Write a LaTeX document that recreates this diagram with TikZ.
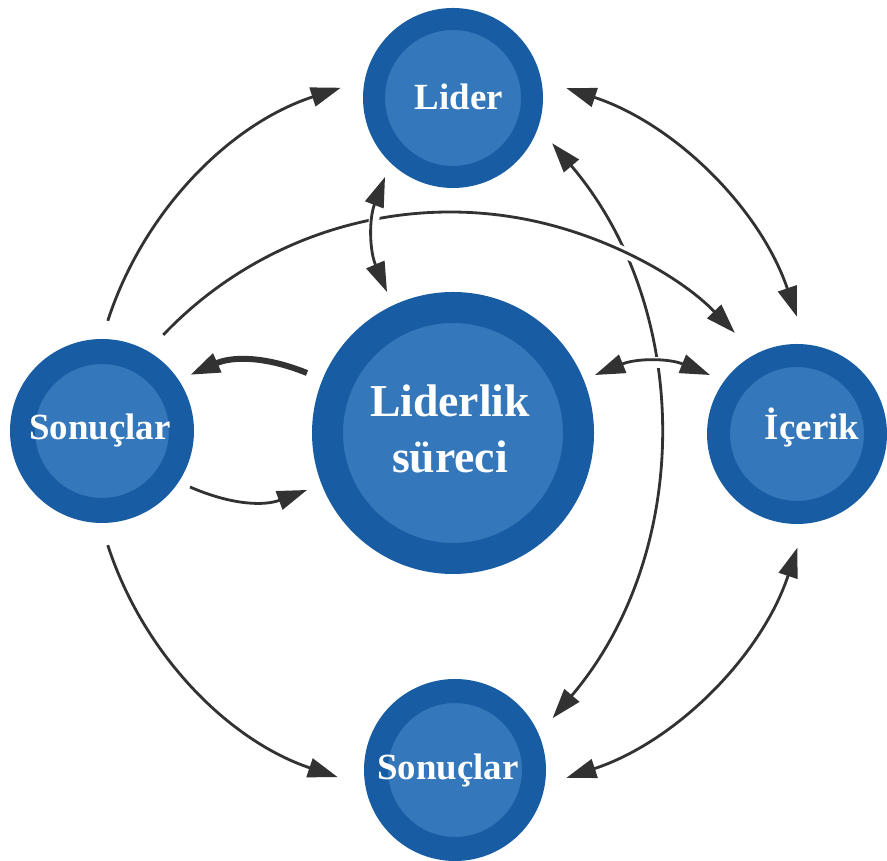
\documentclass[tikz,border=0pt]{standalone}
\usepackage{fontspec}
\setmainfont{Liberation Serif}
\usetikzlibrary{arrows.meta,calc}
\definecolor{ringblue}{RGB}{24,93,163}
\definecolor{coreblue}{RGB}{52,120,187}
\definecolor{arrowgray}{RGB}{50,50,50}
\begin{document}
\begin{tikzpicture}[
  bub/.style={circle, draw=ringblue, fill=coreblue, inner sep=0pt},
  lbl/.style={text=white, inner sep=0pt, anchor=base},
  small/.style={font=\bfseries\fontsize{10.5}{12}\selectfont},
  big/.style={font=\bfseries\fontsize{13}{15}\selectfont},
  link/.style={draw=arrowgray, line width=0.8pt, >={Triangle[length=8.5pt,width=5.5pt]}},
  halo/.style={preaction={draw=white, line width=3pt, arrows=-}},
]
\useasboundingbox (0,0) rectangle (8.87,8.61);

% circles
\node[bub, line width=0.22cm, minimum size=1.58cm] (lider) at (4.53,7.63) {};
\node[bub, line width=0.31cm, minimum size=2.51cm] (core) at (4.53,4.28) {};
\node[bub, line width=0.25cm, minimum size=1.59cm] (sonL) at (1.02,4.30) {};
\node[bub, line width=0.23cm, minimum size=1.57cm] (icerik) at (7.97,4.27) {};
\node[bub, line width=0.24cm, minimum size=1.58cm] (sonB) at (4.55,0.91) {};

% labels
\node[lbl, small] (liderT) at (4.59,7.51) {Lider};
\node[lbl, big] (coreT1) at (4.50,4.44) {Liderlik};
\node[lbl, big] (coreT2) at (4.50,3.88) {süreci};
\node[lbl, small] (sonLT) at (1.00,4.21) {Sonuçlar};
\node[lbl, small] (icerikT) at (8.12,4.21) {İçerik};
\node[lbl, small] (sonBT) at (4.48,0.81) {Sonuçlar};

% outer ring arcs around the core
\coordinate (O) at (core.center);
\coordinate (r1s) at ($(O)+(162:3.63)$);
\coordinate (r2s) at ($(O)+(198:3.63)$);
\coordinate (r3s) at ($(O)+(71.8:3.63)$);
\coordinate (r4s) at ($(O)+(-18.4:3.63)$);
\draw[link,->] (r1s) arc[start angle=162, end angle=108, radius=3.63];
\draw[link,->] (r2s) arc[start angle=198, end angle=251.5, radius=3.63];
\draw[link,<->] (r3s) arc[start angle=71.8, end angle=18.7, radius=3.63];
\draw[link,<->] (r4s) arc[start angle=-18.4, end angle=-71.8, radius=3.63];

% long arc from Sonuclar (bottom) to Lider
\coordinate (C6) at (2.14,4.30);
\coordinate (v6s) at ($(C6)+(-40.3:4.44)$);
\draw[link,<->] (v6s) arc[start angle=-40.3, end angle=40.4, radius=4.44];

% long arc from Sonuclar (left) to Icerik
\coordinate (C5) at (4.50,2.53);
\coordinate (h5s) at ($(C5)+(136.4:3.96)$);
\draw[link,->,halo] (h5s) arc[start angle=136.4, end angle=44, radius=3.96];

% short arrows
\coordinate (p7a) at (3.87,5.69);
\coordinate (p7b) at (3.85,6.84);
\draw[link,<->,halo] (p7a) to[bend left=22] (p7b);

\coordinate (p8a) at (5.95,4.86);
\coordinate (p8b) at (7.10,4.86);
\draw[link,<->,halo] (p8a) to[bend left=22] (p8b);

\coordinate (p9a) at (3.07,4.88);
\coordinate (p9b) at (1.90,4.86);
\draw[link,->,line width=1.7pt] (p9a) to[bend right=23] (p9b);

\coordinate (p10a) at (1.90,3.74);
\coordinate (p10b) at (3.07,3.71);
\draw[link,->] (p10a) to[bend right=22] (p10b);
\end{tikzpicture}
\end{document}
